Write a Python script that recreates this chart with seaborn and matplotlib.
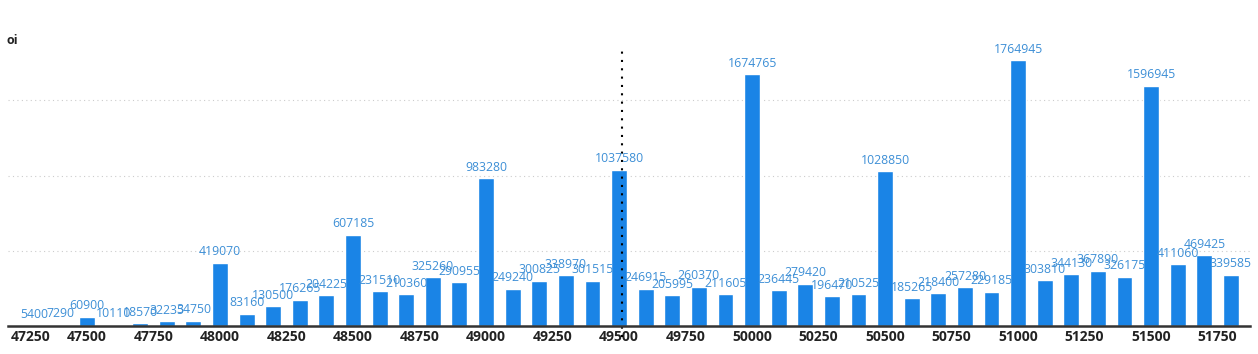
import matplotlib.pyplot as plt
import matplotlib.transforms as mtransforms
import seaborn as sns
import numpy as np
import pandas as pd

# strike prices and open interest
strikes = [47300, 47400, 47500, 47600, 47700, 47800, 47900, 48000, 48100, 48200,
           48300, 48400, 48500, 48600, 48700, 48800, 48900, 49000, 49100, 49200,
           49300, 49400, 49500, 49600, 49700, 49800, 49900, 50000, 50100, 50200,
           50300, 50400, 50500, 50600, 50700, 50800, 50900, 51000, 51100, 51200,
           51300, 51400, 51500, 51600, 51700, 51800]
oi = [5400, 7290, 60900, 10110, 18570, 32235, 34750, 419070, 83160, 130500,
      176265, 204225, 607185, 231510, 210360, 325260, 290955, 983280, 249240, 300825,
      338970, 301515, 1037580, 246915, 205995, 260370, 211605, 1674765, 236445, 279420,
      196470, 210525, 1028850, 185265, 218400, 257280, 229185, 1764945, 303810, 344130,
      367890, 326175, 1596945, 411060, 469425, 339585]
tick_strikes = [47250, 47500, 47750, 48000, 48250, 48500, 48750, 49000, 49250, 49500,
                49750, 50000, 50250, 50500, 50750, 51000, 51250, 51500, 51750]
spot = 49511

df = pd.DataFrame({"strike": strikes, "oi": oi})

sns.set_style("white")
plt.rcParams['font.family'] = ['Open Sans', 'DejaVu Sans']

fig = plt.figure(figsize=(12.58, 3.54), dpi=100)
ax = fig.add_axes([0.0064, 0.079, 0.9873, 0.85])

sns.barplot(data=df, x="strike", y="oi", native_scale=True, width=0.6,
            color="#1a84e6", saturation=1, ax=ax)

for s, v in zip(strikes, oi):
    ax.text(s, v + 30000, str(v), ha="center", va="bottom",
            fontsize=8.8, color="#3d8fd6")

ax.set_xlim(47203, 51872)
ax.set_ylim(0, 2000000)
ax.set_yticks([500000, 1000000, 1500000])
ax.set_yticklabels([])
ax.tick_params(axis="y", length=0)
ax.yaxis.grid(True, linestyle=(0, (1, 3)), color="#cccccc", linewidth=0.8)
ax.set_axisbelow(True)

ax.set_xticks(tick_strikes)
ax.set_xticklabels([str(t) for t in tick_strikes], fontsize=10, fontweight="bold", color="#222222")
ax.tick_params(axis="x", length=0, pad=3)
ax.set_xlabel("")
ax.set_ylabel("")

# first label sits inside the figure in the original
first = ax.get_xticklabels()[0]
first.set_transform(first.get_transform() + mtransforms.ScaledTranslation(10 / 100, 0, fig.dpi_scale_trans))

for side in ["top", "right", "left"]:
    ax.spines[side].set_visible(False)
ax.spines["bottom"].set_color("#333333")
ax.spines["bottom"].set_linewidth(1.8)

ax.axvline(spot, ymin=-0.035, ymax=0.93, color="black", linestyle=(0, (1, 3)),
           linewidth=1.5, clip_on=False)

fig.text(0.005, 0.875, "oi", fontsize=9, fontweight="bold", color="#222222")

fig.savefig("out.png", dpi=100)
